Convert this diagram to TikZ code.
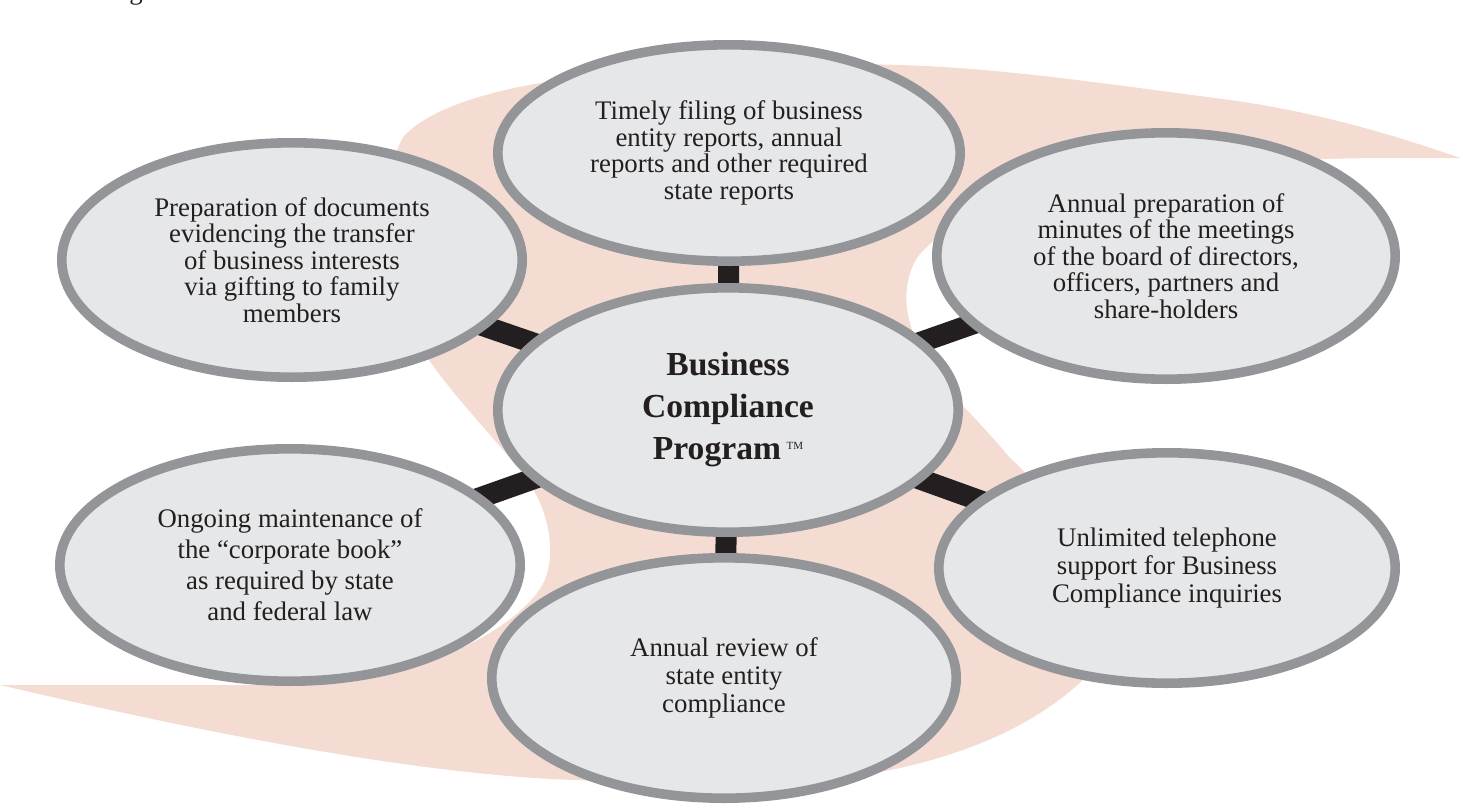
\documentclass[tikz,border=0pt]{standalone}
\usepackage{fontspec}
\setmainfont{Liberation Serif}
\usetikzlibrary{shapes.geometric,backgrounds}

\definecolor{swooshcol}{HTML}{F4DCD3}
\definecolor{bubblefill}{HTML}{E6E7E8}
\definecolor{bubbleline}{HTML}{939598}
\definecolor{barcol}{HTML}{231F20}

\begin{document}
\begin{tikzpicture}[
    x=0.5pt, y=-0.5pt,
    bubble/.style={ellipse, draw=bubbleline, fill=bubblefill, line width=4.8pt,
      inner sep=0pt, align=center, text=barcol,
      font=\fontsize{13.4}{13.3}\selectfont,
      minimum width=230pt, minimum height=118pt},
    hubbubble/.style={bubble, font=\fontsize{16.8}{21}\selectfont\bfseries},
    bar/.style={draw=barcol, line width=10.5pt}
  ]
  \useasboundingbox (0,0) rectangle (1463,809);

  % cut-off letter from the line above
  \node[font=\fontsize{13.4}{13.3}\selectfont, text=barcol, anchor=base] (cutg) at (136,-1) {g};

  % the six topics round the program
  \node[hubbubble, minimum width=230.2pt, minimum height=122.2pt] (hub) at (728,410)
    {Business\\Compliance\\Program\,\raisebox{5pt}{\fontsize{5.5}{5.5}\selectfont\mdseries TM}};
  \node[bubble, minimum width=231.2pt, minimum height=108.2pt] (filing) at (729,153)
    {Timely filing of business\\entity reports, annual\\reports and other required\\state reports};
  \node[bubble, minimum width=230.2pt, minimum height=117.2pt] (gifting) at (292,260)
    {Preparation of documents\\evidencing the transfer\\of business interests\\via gifting to family\\members};
  \node[bubble, minimum width=229.2pt, minimum height=123.2pt] (minutes) at (1166,256)
    {Annual preparation of\\minutes of the meetings\\of the board of directors,\\officers, partners and\\share-holders};
  \node[bubble, minimum width=230.2pt, minimum height=116.2pt,
    font=\fontsize{13.4}{15.5}\selectfont] (corpbook) at (290,565)
    {Ongoing maintenance of\\the “corporate book”\\as required by state\\and federal law};
  \node[bubble, minimum width=228.2pt, minimum height=115.2pt,
    font=\fontsize{13.4}{13.8}\selectfont] (phone) at (1167,568)
    {Unlimited telephone\\support for Business\\Compliance inquiries};
  \node[bubble, minimum width=232.2pt, minimum height=120.2pt,
    font=\fontsize{13.4}{13.8}\selectfont] (review) at (724,678)
    {Annual review of\\state entity\\compliance};

  \begin{pgfonlayer}{background}
    % swoosh behind everything
    \fill[swooshcol] (1460,158)
      .. controls (1380,130) and (1300,108) .. (1207,97)
      .. controls (1100,83) and (1000,68) .. (900,65)
      .. controls (750,60) and (600,70) .. (514,88)
      .. controls (460,100) and (425,115) .. (405,135)
      .. controls (380,165) and (385,300) .. (427,357)
      .. controls (450,392) and (500,445) .. (520,470)
      .. controls (545,500) and (555,540) .. (548,570)
      .. controls (540,610) and (470,650) .. (413,667)
      .. controls (380,678) and (350,685) .. (300,685)
      -- (0,685)
      .. controls (150,720) and (400,775) .. (577,780)
      .. controls (700,790) and (820,785) .. (900,768)
      .. controls (980,750) and (1040,720) .. (1083,680)
      .. controls (1110,620) and (1060,500) .. (1010,458)
      .. controls (995,440) and (975,418) .. (960,403)
      .. controls (940,370) and (915,345) .. (910,323)
      .. controls (903,300) and (905,265) .. (927,247)
      .. controls (980,190) and (1150,160) .. (1378,158)
      -- cycle;
    % bars
    \draw[bar] (hub.center) -- (filing.center);
    \draw[bar] (hub.center) -- (gifting.center);
    \draw[bar] (hub.center) -- (minutes.center);
    \draw[bar] (hub.center) -- (corpbook.center);
    \draw[bar] (hub.center) -- (phone.center);
    \draw[bar] (hub.center) -- (review.center);
  \end{pgfonlayer}
\end{tikzpicture}
\end{document}
